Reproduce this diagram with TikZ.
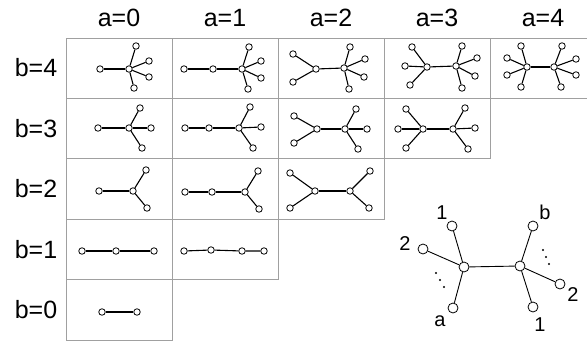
\documentclass[tikz,border=0pt]{standalone}
\usepackage{fontspec}
\setmainfont{Liberation Sans}
\usepackage{tikz}
\usetikzlibrary{positioning}
\definecolor{gridgray}{RGB}{160,160,160}

\tikzset{
  vx/.style={circle, draw, fill=white, inner sep=0pt, minimum size=6.5pt, line width=0.8pt},
  bigvx/.style={circle, draw, fill=white, inner sep=0pt, minimum size=10pt, line width=0.8pt},
  edge/.style={line width=1.1pt},
  bigedge/.style={line width=0.9pt},
  cell/.style={draw=gridgray, line width=1pt},
  head/.style={font=\fontsize{25}{28}\selectfont},
  lbl/.style={font=\fontsize{20}{22}\selectfont, inner sep=0pt}
}

\begin{document}
\begin{tikzpicture}[x=1pt, y=-1pt]
  \useasboundingbox (0,0) rectangle (587,343);

  \foreach \b/\n in {4/4,3/3,2/2,1/1,0/0}
    \foreach \a in {0,...,\n}
      \draw[cell] ({66+106*\a},{38+60.4*(4-\b)}) rectangle ({172+106*\a},{98.4+60.4*(4-\b)});

  \foreach \a in {0,...,4}
    \node[head] (a\a) at ({119+106*\a},18) {a=\a};
  \foreach \b in {0,...,4}
    \node[head] (b\b) at (36,{310-60.5*\b}) {b=\b};

  % b=4
  \node[vx] (u04) at (100,69) {};
  \node[vx] (v04) at (129,69) {};
  \draw[edge] (u04) -- (v04);
  \foreach \k/\x/\y in {1/136/46,2/149/61,3/149/77,4/134/88}
    {\node[vx] (v04-\k) at (\x,\y) {}; \draw[edge] (v04) -- (v04-\k);}

  \node[vx] (u14) at (213,69) {};
  \node[vx] (v14) at (242,69) {};
  \draw[edge] (u14) -- (v14);
  \foreach \k/\x/\y in {1/184/69}
    {\node[vx] (u14-\k) at (\x,\y) {}; \draw[edge] (u14) -- (u14-\k);}
  \foreach \k/\x/\y in {1/249/47,2/261/61,3/261/78,4/248/89}
    {\node[vx] (v14-\k) at (\x,\y) {}; \draw[edge] (v14) -- (v14-\k);}

  \node[vx] (u24) at (316,69) {};
  \node[vx] (v24) at (344,68) {};
  \draw[edge] (u24) -- (v24);
  \foreach \k/\x/\y in {1/293/54,2/293/82}
    {\node[vx] (u24-\k) at (\x,\y) {}; \draw[edge] (u24) -- (u24-\k);}
  \foreach \k/\x/\y in {1/350/47,2/365/59,3/364/77,4/349/89}
    {\node[vx] (v24-\k) at (\x,\y) {}; \draw[edge] (v24) -- (v24-\k);}

  \node[vx] (u34) at (427,67) {};
  \node[vx] (v34) at (456,66) {};
  \draw[edge] (u34) -- (v34);
  \foreach \k/\x/\y in {1/412/47,2/405/66,3/410/85}
    {\node[vx] (u34-\k) at (\x,\y) {}; \draw[edge] (u34) -- (u34-\k);}
  \foreach \k/\x/\y in {1/462/46,2/477/58,3/475/76,4/462/88}
    {\node[vx] (v34-\k) at (\x,\y) {}; \draw[edge] (v34) -- (v34-\k);}

  \node[vx] (u44) at (527,67) {};
  \node[vx] (v44) at (554,67) {};
  \draw[edge] (u44) -- (v44);
  \foreach \k/\x/\y in {1/521/46,2/507/58,3/507/75,4/521/87}
    {\node[vx] (u44-\k) at (\x,\y) {}; \draw[edge] (u44) -- (u44-\k);}
  \foreach \k/\x/\y in {1/562/46,2/576/59,3/576/75,4/561/87}
    {\node[vx] (v44-\k) at (\x,\y) {}; \draw[edge] (v44) -- (v44-\k);}

  % b=3
  \node[vx] (u03) at (98,128) {};
  \node[vx] (v03) at (129,128) {};
  \draw[edge] (u03) -- (v03);
  \foreach \k/\x/\y in {1/140/108,2/151/128,3/142/148}
    {\node[vx] (v03-\k) at (\x,\y) {}; \draw[edge] (v03) -- (v03-\k);}

  \node[vx] (u13) at (209,128) {};
  \node[vx] (v13) at (239,128) {};
  \draw[edge] (u13) -- (v13);
  \foreach \k/\x/\y in {1/185/128}
    {\node[vx] (u13-\k) at (\x,\y) {}; \draw[edge] (u13) -- (u13-\k);}
  \foreach \k/\x/\y in {1/250/107,2/261/127,3/253/148}
    {\node[vx] (v13-\k) at (\x,\y) {}; \draw[edge] (v13) -- (v13-\k);}

  \node[vx] (u23) at (317,129) {};
  \node[vx] (v23) at (345,129) {};
  \draw[edge] (u23) -- (v23);
  \foreach \k/\x/\y in {1/294/116,2/294/143}
    {\node[vx] (u23-\k) at (\x,\y) {}; \draw[edge] (u23) -- (u23-\k);}
  \foreach \k/\x/\y in {1/356/109,2/367/129,3/358/149}
    {\node[vx] (v23-\k) at (\x,\y) {}; \draw[edge] (v23) -- (v23-\k);}

  \node[vx] (u33) at (423,129) {};
  \node[vx] (v33) at (453,129) {};
  \draw[edge] (u33) -- (v33);
  \foreach \k/\x/\y in {1/406/109,2/398/129,3/406/148}
    {\node[vx] (u33-\k) at (\x,\y) {}; \draw[edge] (u33) -- (u33-\k);}
  \foreach \k/\x/\y in {1/465/108,2/475/128,3/468/149}
    {\node[vx] (v33-\k) at (\x,\y) {}; \draw[edge] (v33) -- (v33-\k);}

  % b=2
  \node[vx] (u02) at (99,191) {};
  \node[vx] (v02) at (133,191) {};
  \draw[edge] (u02) -- (v02);
  \foreach \k/\x/\y in {1/146/170,2/147/208}
    {\node[vx] (v02-\k) at (\x,\y) {}; \draw[edge] (v02) -- (v02-\k);}

  \node[vx] (u12) at (212,192) {};
  \node[vx] (v12) at (245,192) {};
  \draw[edge] (u12) -- (v12);
  \foreach \k/\x/\y in {1/185/192}
    {\node[vx] (u12-\k) at (\x,\y) {}; \draw[edge] (u12) -- (u12-\k);}
  \foreach \k/\x/\y in {1/258/171,2/259/209}
    {\node[vx] (v12-\k) at (\x,\y) {}; \draw[edge] (v12) -- (v12-\k);}

  \node[vx] (u22) at (315,191) {};
  \node[vx] (v22) at (350,191) {};
  \draw[edge] (u22) -- (v22);
  \foreach \k/\x/\y in {1/290/173,2/290/208}
    {\node[vx] (u22-\k) at (\x,\y) {}; \draw[edge] (u22) -- (u22-\k);}
  \foreach \k/\x/\y in {1/370/171,2/369/208}
    {\node[vx] (v22-\k) at (\x,\y) {}; \draw[edge] (v22) -- (v22-\k);}

  % b=1
  \node[vx] (u01) at (82,251) {};
  \node[vx] (v01) at (116,251) {};
  \node[vx] (v01-1) at (154,251) {};
  \draw[edge] (u01) -- (v01) -- (v01-1);

  \node[vx] (u11-1) at (184,251) {};
  \node[vx] (u11) at (211,250) {};
  \node[vx] (v11) at (242,251) {};
  \node[vx] (v11-1) at (264,251) {};
  \draw[edge] (u11-1) -- (u11) -- (v11) -- (v11-1);

  % b=0
  \node[vx] (u00) at (102,312) {};
  \node[vx] (v00) at (137,312) {};
  \draw[edge] (u00) -- (v00);

  % general tree
  \node[bigvx] (u) at (464,267) {};
  \node[bigvx] (v) at (520,266) {};
  \node[bigvx] (u1) at (452,226) {};
  \node[bigvx] (u2) at (423,249) {};
  \node[bigvx] (ua) at (453,308) {};
  \node[bigvx] (vb) at (533,226) {};
  \node[bigvx] (v2) at (560,284) {};
  \node[bigvx] (v1) at (533,307) {};
  \draw[bigedge] (u) -- (v);
  \draw[bigedge] (u) -- (u1);
  \draw[bigedge] (u) -- (u2);
  \draw[bigedge] (u) -- (ua);
  \draw[bigedge] (v) -- (vb);
  \draw[bigedge] (v) -- (v2);
  \draw[bigedge] (v) -- (v1);

  \node[lbl] (l-u1) at (442,213) {1};
  \node[lbl] (l-u2) at (405,244) {2};
  \node[lbl] (l-ua) at (440,321) {a};
  \node[lbl] (l-vb) at (545,212) {b};
  \node[lbl] (l-v2) at (573,295) {2};
  \node[lbl] (l-v1) at (540,325) {1};

  \foreach \x/\y in {436/273,440/280,444/287,543/250,546/257,549/264}
    \fill (\x,\y) circle (1.2);
\end{tikzpicture}
\end{document}
